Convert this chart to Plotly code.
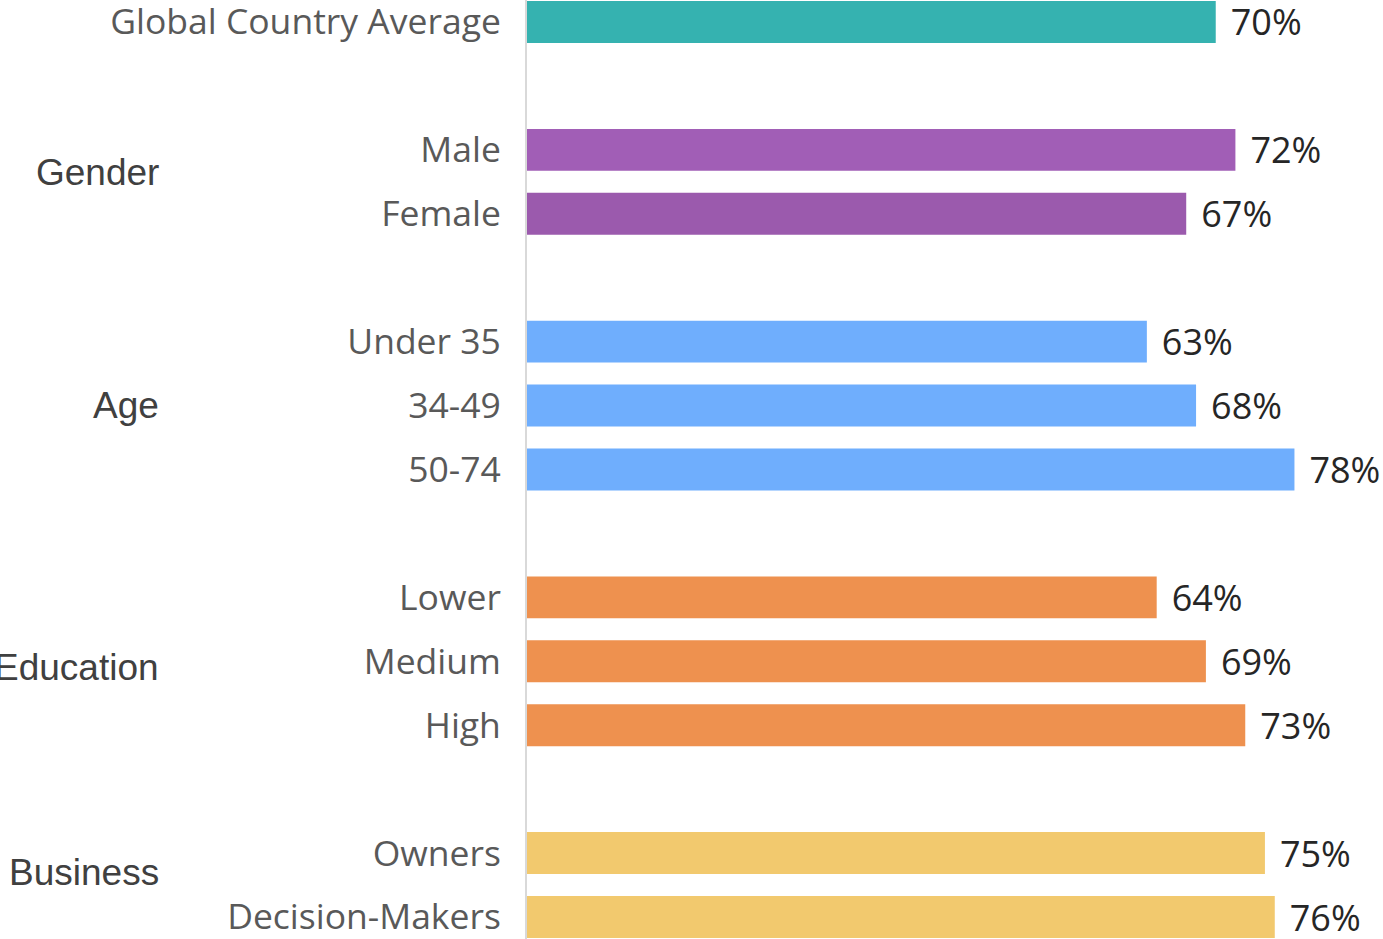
import plotly.graph_objects as go

categories = ["Global Country Average", "Male", "Female", "Under 35", "34-49", "50-74",
              "Lower", "Medium", "High", "Owners", "Decision-Makers"]
groups = ["Global", "Gender", "Gender", "Age", "Age", "Age",
          "Education", "Education", "Education", "Business", "Business"]
values = [70, 72, 67, 63, 68, 78, 64, 69, 73, 75, 76]
bar_colors = ["#35b2b0", "#a15eb6", "#9b5aad", "#6faefd", "#6faefd", "#6faefd",
              "#ee914f", "#ee914f", "#ee914f", "#f2c96e", "#f2c96e"]
group_titles = ["Gender", "Age", "Education", "Business"]
group_title_rows = [2.35, 6.0, 10.09, 13.31]

# row positions: consecutive within a group, one blank row between groups
rows = []
r = 0
for i, g in enumerate(groups):
    if i > 0:
        r += 1 if g == groups[i - 1] else 2
    rows.append(r)

fig = go.Figure(go.Bar(
    x=values, y=rows, orientation="h",
    marker=dict(color=bar_colors, line=dict(width=0)),
    width=0.656,
    text=[f"\u2004{v}%" for v in values],
    textposition="outside",
    constraintext="none",
    textfont=dict(family="Open Sans, Segoe UI, sans-serif", size=36, color="#262626"),
    cliponaxis=False,
    hoverinfo="skip",
))

annotations = []
for t, yr in zip(group_titles, group_title_rows):
    annotations.append(dict(
        text=t, x=-0.428, xref="paper", y=yr, yref="y",
        xanchor="right", yanchor="middle", showarrow=False,
        font=dict(family="Arial, Liberation Sans, sans-serif", size=37, color="#404040"),
    ))

fig.update_layout(
    width=1383, height=939,
    margin=dict(l=527, r=0, t=0, b=0, autoexpand=False),
    paper_bgcolor="white", plot_bgcolor="white",
    showlegend=False,
    annotations=annotations,
    xaxis=dict(range=[0, 87], visible=False, fixedrange=True, automargin=False),
    yaxis=dict(
        range=[14.344, -0.344],
        tickvals=rows, ticktext=categories,
        tickfont=dict(family="Open Sans, Segoe UI, sans-serif", size=35.5, color="#595959"),
        ticks="", ticklabelstandoff=17, ticklabeloverflow="allow",
        automargin=False,
        showgrid=False, zeroline=False,
        showline=True, linecolor="#d9d9d9", linewidth=2,
        fixedrange=True,
    ),
)

fig.write_html("out.html", config={"displayModeBar": False},
               post_script="document.body.style.margin='0';document.body.style.overflow='hidden';")
